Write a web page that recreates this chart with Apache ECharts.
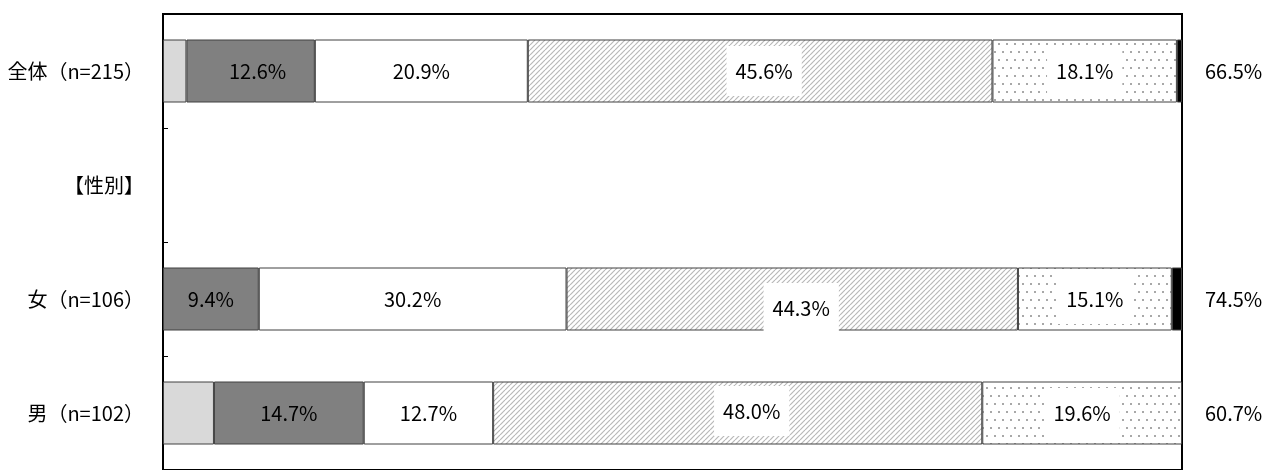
<!DOCTYPE html>
<html>
<head>
<meta charset="utf-8">
<script src="https://cdn.jsdelivr.net/npm/echarts@6/dist/echarts.min.js"></script>
<style>
  html, body { margin: 0; padding: 0; background: #fff; }
  #chart { width: 1271px; height: 470px; }
</style>
</head>
<body>
<div id="chart"></div>
<script>
// ---- data ----
const categories = ['全体（n=215）', '【性別】', '女（n=106）', '男（n=102）'];
const rightLabels = ['66.5%', '', '74.5%', '60.7%'];
const segLightGray = [2.3, null, null, 5.0];
const segDarkGray  = [12.6, null, 9.4, 14.7];
const segWhite     = [20.9, null, 30.2, 12.7];
const segHatched   = [45.6, null, 44.3, 48.0];
const segDotted    = [18.1, null, 15.1, 19.6];
const segBlack     = [0.5, null, 1.0, null];

// ---- patterns ----
function hatchPattern() {
  const s = 5;
  const c = document.createElement('canvas');
  c.width = s; c.height = s;
  const g = c.getContext('2d');
  g.fillStyle = '#fff'; g.fillRect(0, 0, s, s);
  g.strokeStyle = '#b8b8b8'; g.lineWidth = 1.2;
  for (let k = -1; k <= 1; k++) {
    g.beginPath(); g.moveTo(k * s, s); g.lineTo(k * s + s, 0); g.stroke();
  }
  return { image: c, repeat: 'repeat' };
}
function dotPattern() {
  const w = 8, h = 16;
  const c = document.createElement('canvas');
  c.width = w; c.height = h;
  const g = c.getContext('2d');
  g.fillStyle = '#fff'; g.fillRect(0, 0, w, h);
  g.fillStyle = '#a8a8a8';
  g.fillRect(2, 3, 2, 2);
  g.fillRect(6, 11, 2, 2);
  return { image: c, repeat: 'repeat' };
}

const FONT = '"Noto Sans CJK JP", "Noto Sans", sans-serif';
const pctFmt = p => (p.value == null ? '' : p.value.toFixed(1) + '%');
const border = { borderColor: '#404040', borderWidth: 1 };

function withOffsets(values, offsets) {
  return values.map((v, i) => {
    if (v == null || !offsets || !offsets[i]) return v;
    return { value: v, label: { offset: offsets[i] } };
  });
}

const hatchedOffsets = [[4, 0], null, [9, 9], [14, -2]];
const darkOffsets = [[7, 0], null, null, null];

function mkSeries(name, data, color, showLabel, labelBox) {
  const s = {
    name: name, type: 'bar', stack: 'total', barWidth: 63,
    data: data,
    itemStyle: Object.assign({ color: color }, border),
    label: { show: false },
    emphasis: { disabled: true }
  };
  if (showLabel) {
    s.label = {
      show: true, position: 'inside', formatter: pctFmt,
      color: '#000', fontSize: 20, fontFamily: FONT
    };
    if (labelBox) {
      s.label.backgroundColor = '#fff';
      s.label.padding = [15, 9];
    }
  }
  return s;
}

const chart = echarts.init(document.getElementById('chart'), null, { renderer: 'canvas' });
chart.setOption({
  animation: false,
  grid: {
    left: 163, top: 14, width: 1019, height: 464,
    show: true, borderColor: '#000', borderWidth: 2, backgroundColor: 'transparent'
  },
  xAxis: {
    type: 'value', min: 0, max: 100, show: false
  },
  yAxis: [
    {
      type: 'category', inverse: true, data: categories,
      axisLine: { show: false },
      axisTick: { show: true, inside: true, length: 5, lineStyle: { color: '#000', width: 1 } },
      axisLabel: { color: '#000', fontSize: 20, fontFamily: FONT, margin: 19 }
    },
    {
      type: 'category', inverse: true, data: rightLabels, position: 'right',
      axisLine: { show: false }, axisTick: { show: false },
      axisLabel: { color: '#000', fontSize: 20, fontFamily: FONT, margin: 23 }
    }
  ],
  series: [
    mkSeries('s1', segLightGray, '#d9d9d9', false),
    mkSeries('s2', withOffsets(segDarkGray, darkOffsets), '#808080', true, false),
    mkSeries('s3', segWhite, '#ffffff', true, false),
    mkSeries('s4', withOffsets(segHatched, hatchedOffsets), hatchPattern(), true, true),
    mkSeries('s5', segDotted, dotPattern(), true, true),
    mkSeries('s6', segBlack, '#000000', false)
  ]
});
</script>
</body>
</html>
